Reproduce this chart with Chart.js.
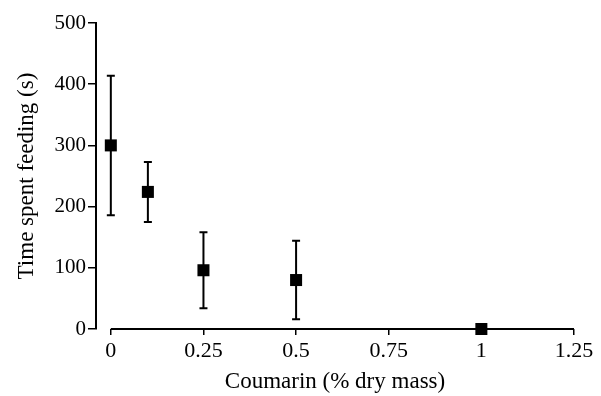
<!DOCTYPE html>
<html>
<head>
<meta charset="utf-8">
<script src="https://cdn.jsdelivr.net/npm/chart.js@4"></script>
<style>
  html, body { margin: 0; padding: 0; background: #fff; }
  canvas { display: block; }
</style>
</head>
<body>
<canvas id="chart" width="601" height="396"></canvas>
<script>
// coumarin dose vs feeding time, mean +/- error
const doses = [0, 0.1, 0.25, 0.5, 1];
const feedTimes = [300, 224, 96, 80, 0];
const feedErrors = [114, 49, 62, 64, 0];
const xTicks = [0, 0.25, 0.5, 0.75, 1, 1.25];
const yTicks = [0, 100, 200, 300, 400, 500];

const serif = 'Liberation Serif, Times New Roman, serif';

// error bars + x axis line drawn through the chart's scales
const errorBars = {
    id: 'errorBars',
    beforeDatasetsDraw(chart) {
        const { ctx, scales: { x, y } } = chart;
        ctx.save();
        ctx.strokeStyle = '#000';
        ctx.lineWidth = 2;
        // x axis line, only from 0 to 1.25
        ctx.beginPath();
        ctx.moveTo(x.getPixelForValue(xTicks[0]), y.bottom);
        ctx.lineTo(x.getPixelForValue(xTicks[xTicks.length - 1]), y.bottom);
        ctx.stroke();
        doses.forEach((d, i) => {
            const err = feedErrors[i];
            if (!err) return;
            const px = x.getPixelForValue(d);
            const top = y.getPixelForValue(feedTimes[i] + err);
            const bot = y.getPixelForValue(feedTimes[i] - err);
            ctx.beginPath();
            ctx.moveTo(px, top);
            ctx.lineTo(px, bot);
            ctx.moveTo(px - 4, top);
            ctx.lineTo(px + 4, top);
            ctx.moveTo(px - 4, bot);
            ctx.lineTo(px + 4, bot);
            ctx.stroke();
        });
        ctx.restore();
    }
};

new Chart(document.getElementById('chart'), {
    type: 'scatter',
    data: {
        datasets: [{
            data: doses.map((d, i) => ({ x: d, y: feedTimes[i] })),
            pointStyle: 'rect',
            pointRadius: 8.5,
            pointHoverRadius: 8.5,
            backgroundColor: '#000',
            borderColor: '#000',
            borderWidth: 0,
            clip: false
        }]
    },
    options: {
        responsive: false,
        animation: false,
        events: [],
        layout: { padding: { left: 0, right: 27, top: 23, bottom: 0 } },
        plugins: {
            legend: { display: false },
            tooltip: { enabled: false }
        },
        scales: {
            x: {
                type: 'linear',
                min: -0.04,
                max: 1.25,
                afterBuildTicks: (scale) => { scale.ticks = xTicks.map(v => ({ value: v })); },
                afterFit: (scale) => { scale.height = 67; },
                border: { display: false },
                grid: {
                    display: true,
                    drawOnChartArea: false,
                    drawTicks: true,
                    tickLength: 6,
                    color: '#000',
                    lineWidth: 1.5
                },
                ticks: {
                    color: '#000',
                    padding: 3,
                    maxRotation: 0,
                    font: { family: serif, size: 22 },
                    callback: (v) => String(v)
                },
                title: {
                    display: true,
                    text: 'Coumarin (% dry mass)',
                    color: '#000',
                    font: { family: serif, size: 23 },
                    padding: { top: 0, bottom: 0 }
                }
            },
            y: {
                min: 0,
                max: 500,
                afterBuildTicks: (scale) => { scale.ticks = yTicks.map(v => ({ value: v })); },
                afterFit: (scale) => { scale.width = 96; },
                border: { display: true, color: '#000', width: 2 },
                grid: {
                    display: true,
                    drawOnChartArea: false,
                    drawTicks: true,
                    tickLength: 8,
                    color: '#000',
                    lineWidth: 1.5
                },
                ticks: {
                    color: '#000',
                    padding: 2,
                    font: { family: serif, size: 21 },
                    callback: (v) => String(v)
                },
                title: {
                    display: true,
                    text: 'Time spent feeding (s)',
                    color: '#000',
                    font: { family: serif, size: 23 },
                    padding: { top: 13, bottom: 0 }
                }
            }
        }
    },
    plugins: [errorBars]
});
</script>
</body>
</html>
